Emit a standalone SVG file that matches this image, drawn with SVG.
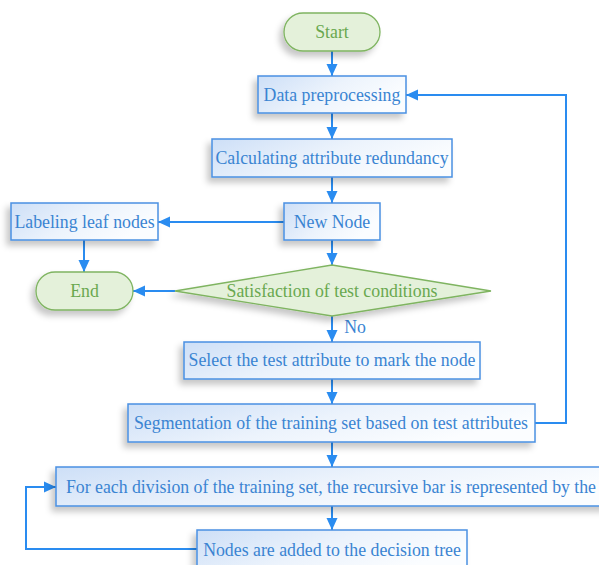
<svg xmlns="http://www.w3.org/2000/svg" width="599" height="565" viewBox="0 0 599 565">
<defs>
  <linearGradient id="boxg" x1="0" y1="0" x2="1" y2="0.4">
    <stop offset="0" stop-color="#cddff7"/>
    <stop offset="0.55" stop-color="#ecf3fc"/>
    <stop offset="1" stop-color="#fbfdff"/>
  </linearGradient>
  <filter id="sh" x="-20%" y="-40%" width="140%" height="200%">
    <feDropShadow dx="-4" dy="5" stdDeviation="3" flood-color="#000" flood-opacity="0.22"/>
  </filter>
  <marker id="arr" markerUnits="userSpaceOnUse" markerWidth="12" markerHeight="12" refX="12" refY="6" orient="auto">
    <path d="M0,0.5 L12,6 L0,11.5 z" fill="#2a8cf0"/>
  </marker>
</defs>
<style>
  .box { fill: url(#boxg); stroke: #4a90e2; stroke-width: 1.5; filter: url(#sh); }
  .term { fill: #e4f1da; stroke: #7fb461; stroke-width: 1.3; filter: url(#sh); }
  .t { font-family: "Liberation Serif", "Times New Roman", serif; font-size: 17.8px; fill: #3a84d2; text-anchor: middle; }
  .g { fill: #69a84f; }
  .c { fill: none; stroke: #2a8cf0; stroke-width: 2; marker-end: url(#arr); }
</style>
<rect width="599" height="565" fill="#ffffff"/>
<g id="connectors">
  <path class="c" d="M332,51 V76"/>
  <path class="c" d="M332,113 V139"/>
  <path class="c" d="M332,177 V203"/>
  <path class="c" d="M284,222 H158"/>
  <path class="c" d="M332,240 V265"/>
  <path class="c" d="M84,240 V272"/>
  <path class="c" d="M175,291 H133"/>
  <path class="c" d="M332,316 V342"/>
  <path class="c" d="M332,379 V404"/>
  <path class="c" d="M535,423 H566 V95 H406"/>
  <path class="c" d="M332,442 V467"/>
  <path class="c" d="M332,506 V530"/>
  <path class="c" d="M197,549 H26 V487 H56"/>
  <rect x="343" y="318" width="25" height="18" fill="#ffffff"/>
  <text class="t" x="355" y="333">No</text>
</g>
<g id="start">
  <rect class="term" x="284" y="13" width="96" height="38" rx="19"/>
  <text class="t g" x="332" y="38">Start</text>
</g>
<g id="data">
  <rect class="box" x="258" y="76" width="148" height="37"/>
  <text class="t" x="332" y="101">Data preprocessing</text>
</g>
<g id="calc">
  <rect class="box" x="212" y="139" width="240" height="38"/>
  <text class="t" x="332" y="164">Calculating attribute redundancy</text>
</g>
<g id="newnode">
  <rect class="box" x="284" y="203" width="96" height="37"/>
  <text class="t" x="332" y="228">New Node</text>
</g>
<g id="labeling">
  <rect class="box" x="11" y="203" width="147" height="37"/>
  <text class="t" x="84.5" y="228">Labeling leaf nodes</text>
</g>
<g id="end">
  <rect class="term" x="36" y="272" width="97" height="38" rx="19"/>
  <text class="t g" x="84.5" y="297">End</text>
</g>
<g id="decision">
  <polygon class="term" points="332,265 491,291 332,316 175,291"/>
  <text class="t g" x="332" y="297">Satisfaction of test conditions</text>
</g>
<g id="select">
  <rect class="box" x="184" y="342" width="296" height="37"/>
  <text class="t" x="332" y="366">Select the test attribute to mark the node</text>
</g>
<g id="segment">
  <rect class="box" x="128" y="404" width="407" height="38"/>
  <text class="t" x="331" y="429">Segmentation of the training set based on test attributes</text>
</g>
<g id="foreach">
  <rect class="box" x="56" y="467" width="560" height="39"/>
  <text class="t" x="66" y="493" style="text-anchor:start" textLength="530" lengthAdjust="spacing">For each division of the training set, the recursive bar is represented by the</text>
</g>
<g id="nodesadded">
  <rect class="box" x="197" y="530" width="270" height="40"/>
  <text class="t" x="332" y="556">Nodes are added to the decision tree</text>
</g>
</svg>
